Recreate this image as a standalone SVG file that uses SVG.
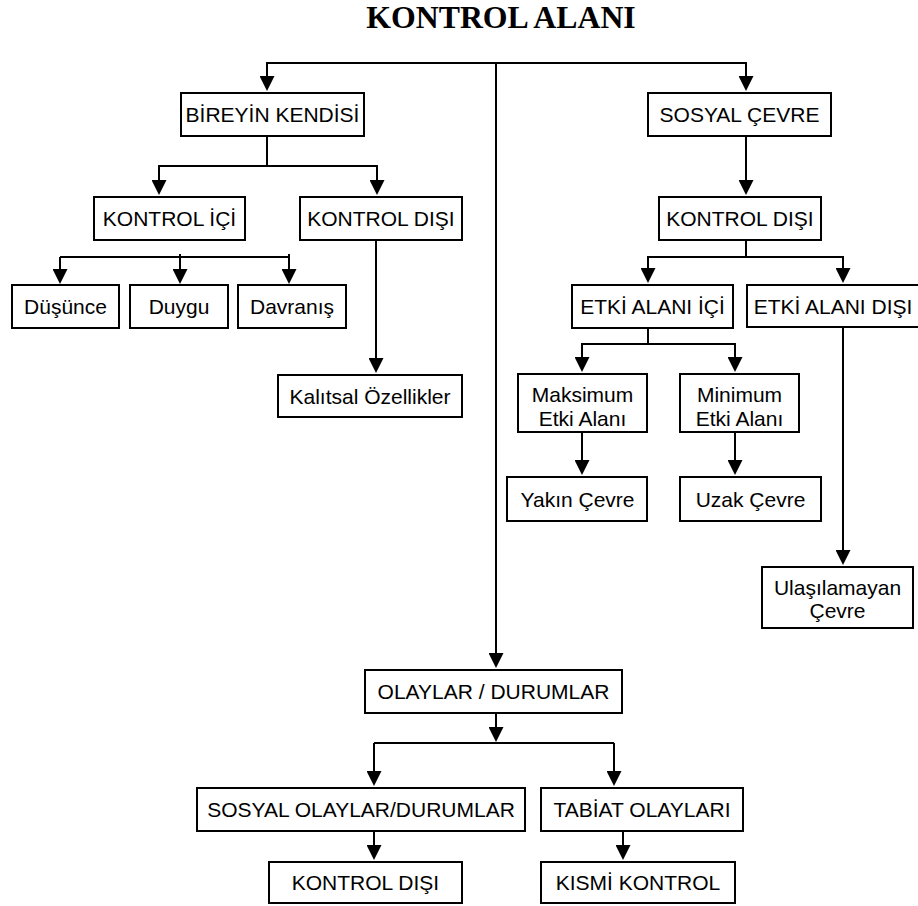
<svg xmlns="http://www.w3.org/2000/svg" width="918" height="906" viewBox="0 0 918 906">
<defs>
<style>
.box{fill:#fff;stroke:#000;stroke-width:2}
.t{font-family:"Liberation Sans",Arial,sans-serif;font-size:21px;fill:#000;text-anchor:middle}
.c{fill:none;stroke:#000;stroke-width:2}
.a{marker-end:url(#arr)}
.title{font-family:"Liberation Serif","Times New Roman",serif;font-weight:bold;font-size:31.8px;fill:#000;text-anchor:middle}
</style>
<marker id="arr" viewBox="0 0 15 15" refX="13" refY="7.5" markerWidth="15" markerHeight="15" markerUnits="userSpaceOnUse" orient="auto">
<path d="M0,0 L15,7.5 L0,15 z" fill="#000"/>
</marker>
</defs>
<rect width="918" height="906" fill="#fff"/>
<text class="title" x="501" y="28">KONTROL ALANI</text>

<g id="connectors">
<path class="c a" d="M496,63 H267 V89"/>
<path class="c a" d="M496,63 H746 V89"/>
<path class="c a" d="M496,63 V666"/>
<path class="c a" d="M267,137 V166 H159 V193"/>
<path class="c a" d="M267,166 H377 V193"/>
<path class="c" d="M60,257 H289"/>
<path class="c a" d="M60,257 V282"/>
<path class="c a" d="M180,254 V282"/>
<path class="c a" d="M289,254 V282"/>
<path class="c a" d="M376,241 V371"/>
<path class="c a" d="M746,137 V193"/>
<path class="c a" d="M746,240 V257 H648 V281"/>
<path class="c a" d="M746,257 H843 V281"/>
<path class="c a" d="M648,329 V344 H582 V370"/>
<path class="c a" d="M648,344 H735 V370"/>
<path class="c a" d="M843,328 V563"/>
<path class="c a" d="M582,433 V473"/>
<path class="c a" d="M735,433 V473"/>
<path class="c a" d="M496,714 V740"/>
<path class="c" d="M374,743 H614"/>
<path class="c a" d="M374,743 V784"/>
<path class="c a" d="M614,743 V784"/>
<path class="c a" d="M374,832 V858"/>
<path class="c a" d="M623,832 V858"/>
</g>

<g id="n-bireyin"><rect class="box" x="181" y="93" width="183" height="43"/><text class="t" x="272.5" y="121.5">BİREYİN KENDİSİ</text></g>
<g id="n-sosyal-cevre"><rect class="box" x="648" y="93" width="183" height="43"/><text class="t" x="739.5" y="121.5">SOSYAL ÇEVRE</text></g>
<g id="n-kontrol-ici"><rect class="box" x="94" y="197" width="151" height="43"/><text class="t" x="169.5" y="225.5">KONTROL İÇİ</text></g>
<g id="n-kontrol-disi-1"><rect class="box" x="300" y="197" width="162" height="43"/><text class="t" x="381" y="225.5">KONTROL DIŞI</text></g>
<g id="n-kontrol-disi-2"><rect class="box" x="659" y="197" width="162" height="43"/><text class="t" x="740" y="225.5">KONTROL DIŞI</text></g>
<g id="n-dusunce"><rect class="box" x="12" y="285" width="107" height="43"/><text class="t" x="65.5" y="313.5">Düşünce</text></g>
<g id="n-duygu"><rect class="box" x="130" y="285" width="98" height="43"/><text class="t" x="179" y="313.5">Duygu</text></g>
<g id="n-davranis"><rect class="box" x="238" y="285" width="108" height="43"/><text class="t" x="292" y="313.5">Davranış</text></g>
<g id="n-kalitsal"><rect class="box" x="278" y="375" width="184" height="42"/><text class="t" x="370" y="403.5">Kalıtsal Özellikler</text></g>
<g id="n-etki-ici"><rect class="box" x="572" y="285" width="161" height="43"/><text class="t" x="652.5" y="313.5">ETKİ ALANI İÇİ</text></g>
<g id="n-etki-disi"><rect class="box" x="747" y="285" width="173" height="42"/><text class="t" x="833" y="313.5">ETKİ ALANI DIŞI</text></g>
<g id="n-maksimum"><rect class="box" x="518" y="374" width="129" height="58"/><text class="t" x="582.5" y="401.5">Maksimum</text><text class="t" x="582.5" y="426">Etki Alanı</text></g>
<g id="n-minimum"><rect class="box" x="680" y="374" width="119" height="58"/><text class="t" x="739.5" y="401.5">Minimum</text><text class="t" x="739.5" y="426">Etki Alanı</text></g>
<g id="n-yakin"><rect class="box" x="507" y="477" width="140" height="44"/><text class="t" x="577.5" y="506.5">Yakın Çevre</text></g>
<g id="n-uzak"><rect class="box" x="680" y="477" width="141" height="44"/><text class="t" x="750.5" y="506.5">Uzak Çevre</text></g>
<g id="n-ulasilamayan"><rect class="box" x="762" y="567" width="151" height="61"/><text class="t" x="837.5" y="595">Ulaşılamayan</text><text class="t" x="837.5" y="618">Çevre</text></g>
<g id="n-olaylar"><rect class="box" x="365" y="670" width="257" height="43"/><text class="t" x="493.5" y="698.5">OLAYLAR / DURUMLAR</text></g>
<g id="n-sosyal-olaylar"><rect class="box" x="197" y="788" width="328" height="43"/><text class="t" x="361" y="816.5">SOSYAL OLAYLAR/DURUMLAR</text></g>
<g id="n-tabiat"><rect class="box" x="541" y="788" width="202" height="43"/><text class="t" x="642" y="816.5">TABİAT OLAYLARI</text></g>
<g id="n-kontrol-disi-3"><rect class="box" x="269" y="862" width="193" height="41"/><text class="t" x="365.5" y="890">KONTROL DIŞI</text></g>
<g id="n-kismi"><rect class="box" x="541" y="862" width="194" height="41"/><text class="t" x="638" y="890">KISMİ KONTROL</text></g>
</svg>
